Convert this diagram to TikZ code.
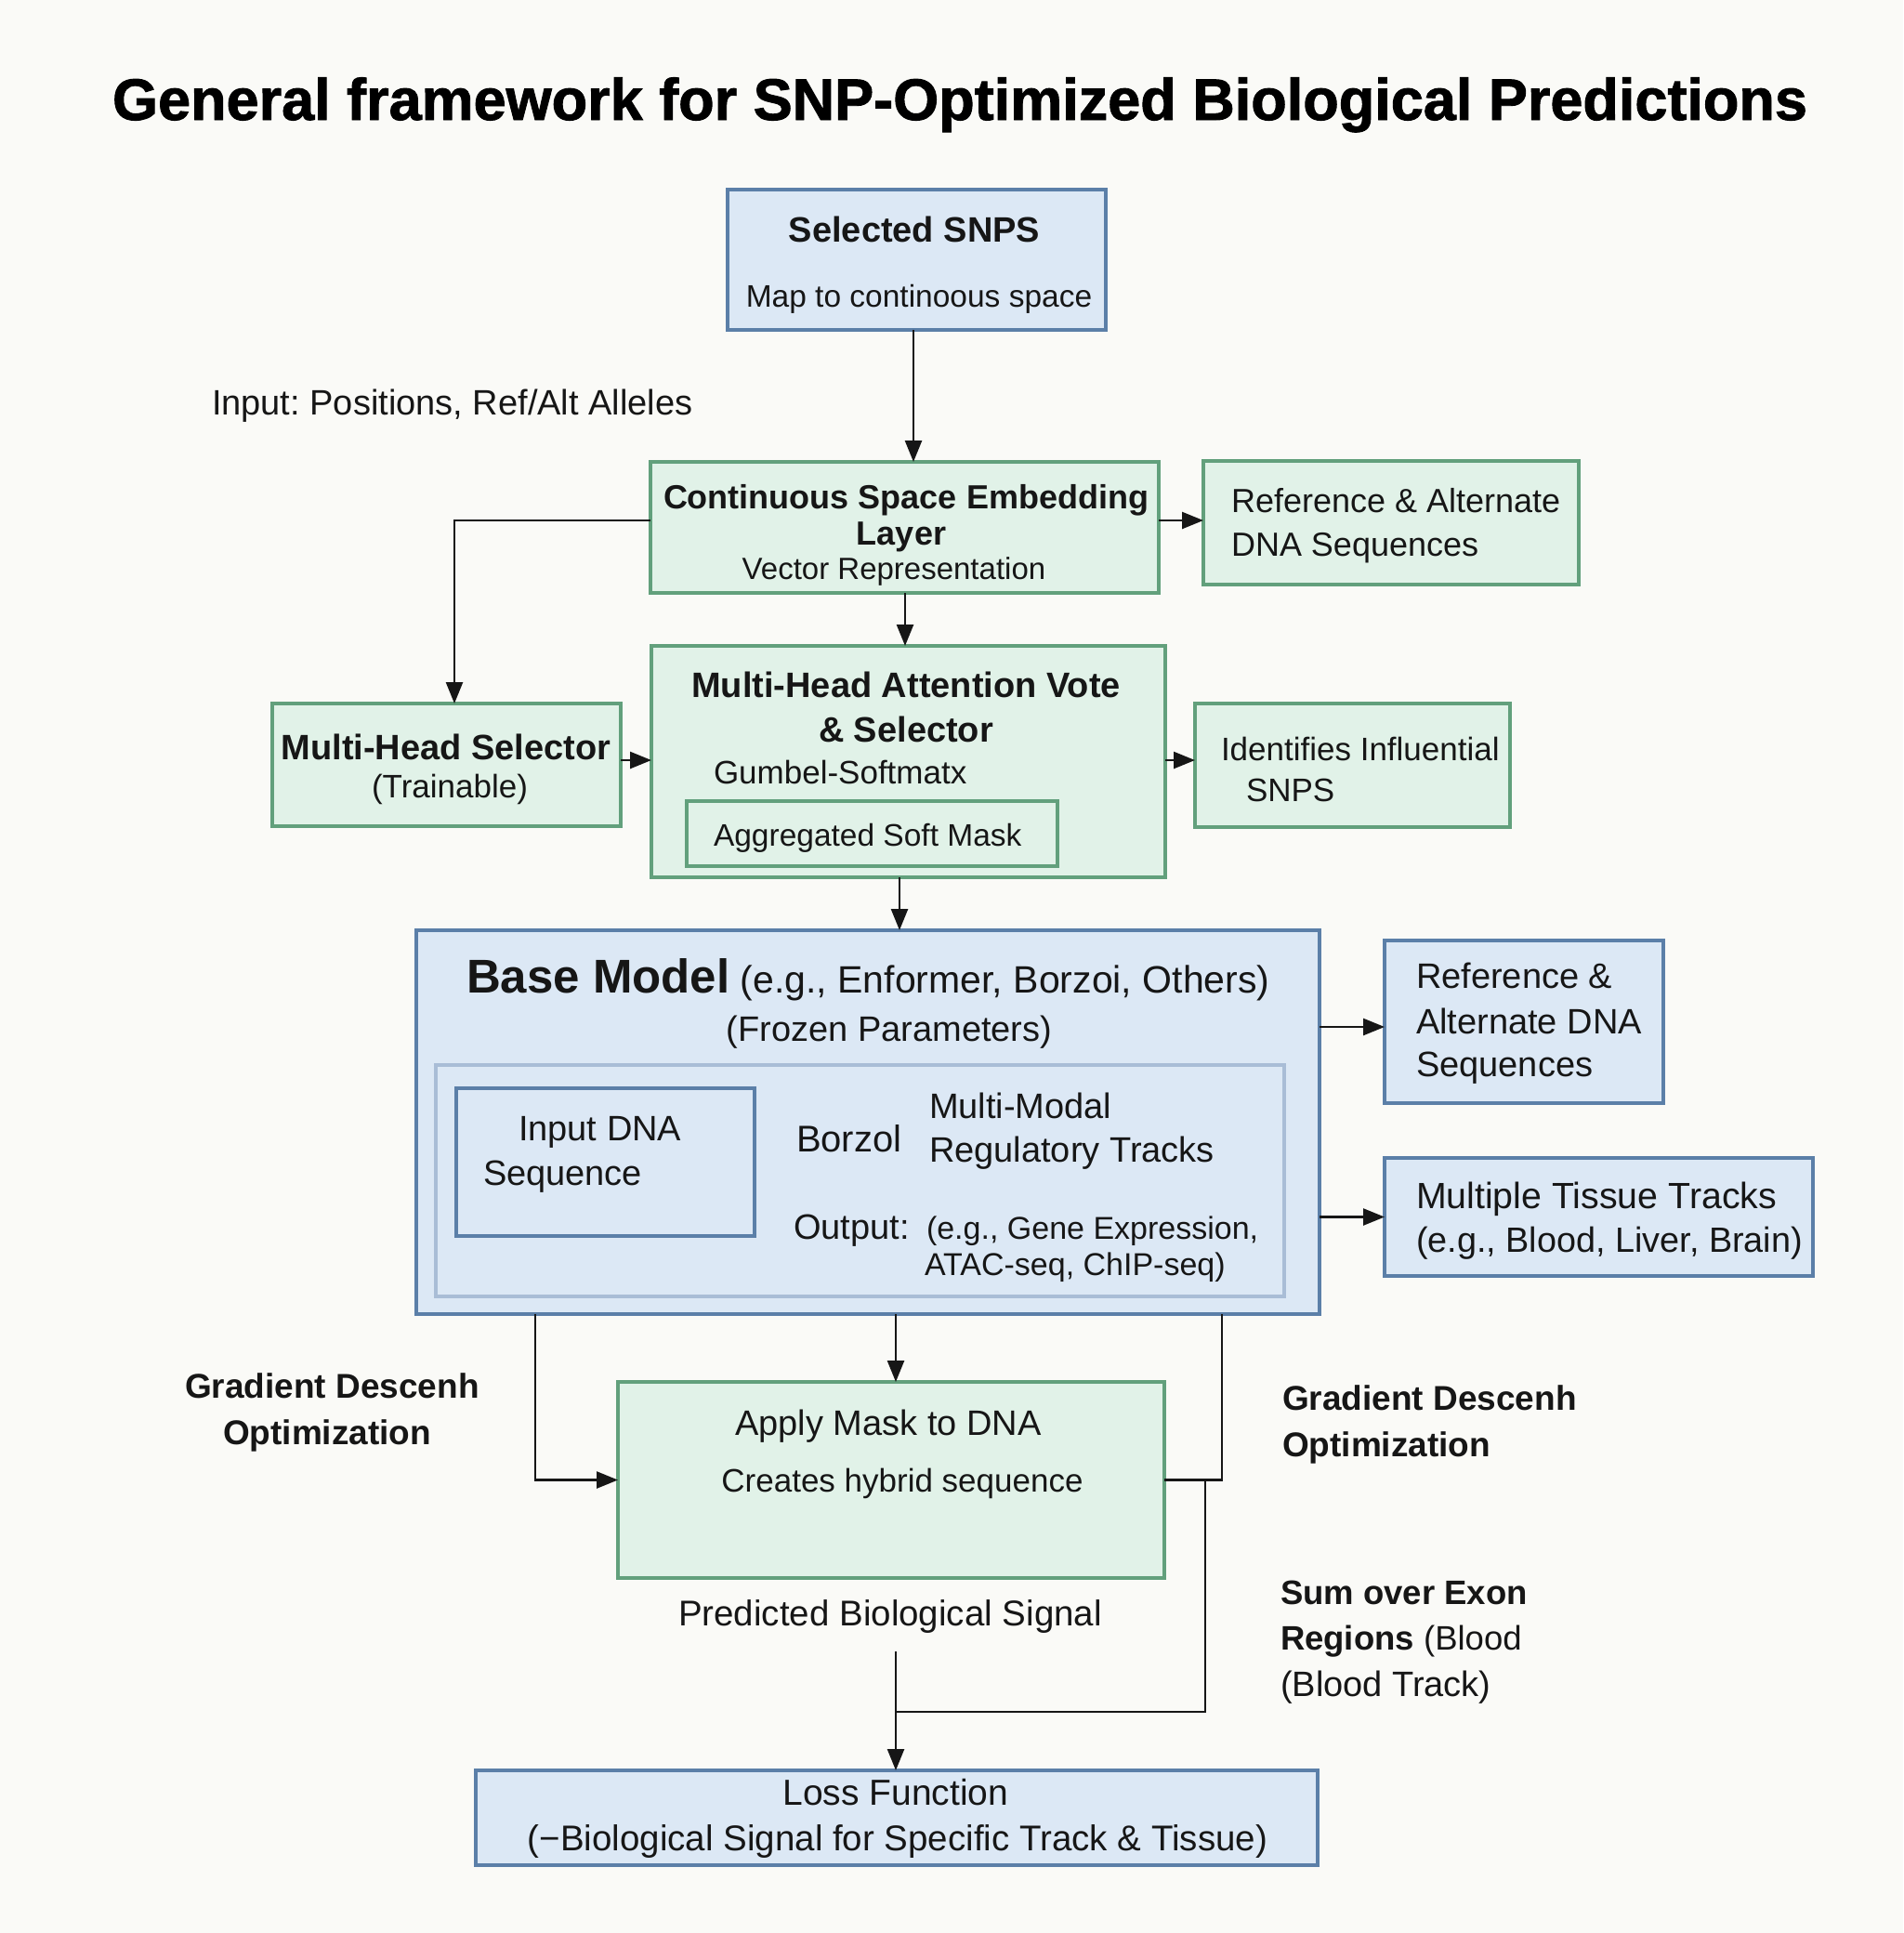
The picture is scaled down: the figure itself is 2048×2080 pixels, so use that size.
\documentclass[tikz,border=0pt]{standalone}
\usepackage{fontspec}
\setmainfont{Liberation Sans}
\newfontfamily\heavyfont{Liberation Sans}[BoldFeatures={FakeBold=1.5}]
\usetikzlibrary{arrows.meta}
\definecolor{bg}{HTML}{FAFAF7}
\definecolor{bfill}{HTML}{DCE8F5}
\definecolor{bline}{HTML}{5B7FA8}
\definecolor{gfill}{HTML}{E1F2E8}
\definecolor{gline}{HTML}{62A07C}
\definecolor{iline}{HTML}{A9BDD6}
\definecolor{ink}{HTML}{161616}
\newcommand\fs[1]{\fontsize{#1}{#1}\selectfont}
\newcommand\mkbox[6]{\node[#2, minimum width={#5-#3}, minimum height={#6-#4}] (#1) at ({(#3+#5)/2},{(#4+#6)/2}) {};}
\frenchspacing
\begin{document}
\begin{tikzpicture}[x=1pt,y=-1pt,
  box/.style={rectangle, inner sep=0pt, outer sep=0pt, line width=4pt},
  bbox/.style={box, draw=bline, fill=bfill},
  gbox/.style={box, draw=gline, fill=gfill},
  ibox/.style={box, draw=iline, fill=bfill, line width=3.5pt},
  txt/.style={inner sep=0pt, outer sep=0pt, text=ink, anchor=base},
  lt/.style={txt, anchor=base west},
  arr/.style={draw=ink, line width=2.5pt, -{Triangle[length=23pt,width=18pt]}},
  ln/.style={draw=ink, line width=2.5pt},
]
\fill[bg] (0,0) rectangle (2048,2080);
\useasboundingbox (0,0) rectangle (2048,2080);

% boxes
\mkbox{snps}{bbox}{783}{204}{1190}{355}
\mkbox{emb}{gbox}{700}{497}{1247}{638}
\mkbox{refalt1}{gbox}{1295}{496}{1699}{629}
\mkbox{sel}{gbox}{293}{757}{668}{889}
\mkbox{att}{gbox}{701}{695}{1254}{944}
\mkbox{agg}{gbox}{739}{862}{1138}{932}
\mkbox{infl}{gbox}{1286}{757}{1625}{890}
\mkbox{base}{bbox}{448}{1001}{1420}{1414}
\mkbox{inner}{ibox}{469}{1146}{1382}{1395}
\mkbox{inp}{bbox}{491}{1171}{812}{1330}
\mkbox{refalt2}{bbox}{1490}{1012}{1790}{1187}
\mkbox{tissue}{bbox}{1490}{1246}{1951}{1373}
\mkbox{apply}{gbox}{665}{1487}{1253}{1698}
\mkbox{loss}{bbox}{512}{1905}{1418}{2007}

% texts
\node[txt, text=black, font=\heavyfont\bfseries\fs{63}] (title) at (1033,129) {General framework for SNP-Optimized Biological Predictions};

\node[txt, font=\bfseries\fs{38}] (t-snps1) at (984,260) {Selected SNPS};
\node[txt, font=\fs{33.5}] (t-snps2) at (989,330) {Map to continoous space};

\node[lt, font=\fs{38}] (t-input) at (228,446) {Input: Positions, Ref/Alt Alleles};

\node[txt, font=\bfseries\fs{36}] (t-emb1) at (975,547) {Continuous Space Embedding};
\node[txt, font=\bfseries\fs{36}] (t-emb2) at (970,586) {Layer};
\node[txt, font=\fs{33}] (t-emb3) at (962,623) {Vector Representation};

\node[lt, font=\fs{36}] (t-ra1) at (1325,551) {Reference \& Alternate};
\node[lt, font=\fs{36}] (t-ra2) at (1325,598) {DNA Sequences};

\node[txt, font=\bfseries\fs{38}] (t-sel1) at (480,817) {Multi-Head Selector};
\node[txt, font=\fs{35}] (t-sel2) at (484,858) {(Trainable)};

\node[txt, font=\bfseries\fs{38}] (t-att1) at (975,750) {Multi-Head Attention Vote};
\node[txt, font=\bfseries\fs{38}] (t-att2) at (975,798) {\& Selector};
\node[lt, font=\fs{35}] (t-att3) at (768,843) {Gumbel-Softmatx};
\node[lt, font=\fs{33.5}] (t-agg) at (768,910) {Aggregated Soft Mask};

\node[lt, font=\fs{35}] (t-inf1) at (1314,818) {Identifies Influential};
\node[lt, font=\fs{35}] (t-inf2) at (1341,862) {SNPS};

\node[lt, font=\fs{41}] (t-base1) at (502,1068) {{\bfseries\fs{51}Base Model} (e.g., Enformer, Borzoi, Others)};
\node[txt, font=\fs{38}] (t-base2) at (957,1120) {(Frozen Parameters)};

\node[lt, font=\fs{38}] (t-inp1) at (558,1227) {Input DNA};
\node[lt, font=\fs{38}] (t-inp2) at (520,1275) {Sequence};
\node[lt, font=\fs{40}] (t-borz) at (857,1239) {Borzol};
\node[lt, font=\fs{38}] (t-mm1) at (1000,1203) {Multi-Modal};
\node[lt, font=\fs{38}] (t-mm2) at (1000,1250) {Regulatory Tracks};
\node[lt, font=\fs{38}] (t-out) at (854,1333) {Output:};
\node[lt, font=\fs{34}] (t-out1) at (997,1333) {(e.g., Gene Expression,};
\node[lt, font=\fs{34}] (t-out2) at (995,1372) {ATAC-seq, ChIP-seq)};

\node[lt, font=\fs{38}] (t-rb1) at (1524,1063) {Reference \&};
\node[lt, font=\fs{38}] (t-rb2) at (1524,1112) {Alternate DNA};
\node[lt, font=\fs{38}] (t-rb3) at (1524,1158) {Sequences};

\node[lt, font=\fs{39.3}] (t-ti1) at (1524,1300) {Multiple Tissue Tracks};
\node[lt, font=\fs{37.8}] (t-ti2) at (1524,1347) {(e.g., Blood, Liver, Brain)};

\node[lt, font=\bfseries\fs{37}] (t-gdl1) at (199,1504) {Gradient Descenh};
\node[lt, font=\bfseries\fs{37}] (t-gdl2) at (240,1554) {Optimization};
\node[lt, font=\bfseries\fs{37}] (t-gdr1) at (1380,1517) {Gradient Descenh};
\node[lt, font=\bfseries\fs{37}] (t-gdr2) at (1380,1567) {Optimization};

\node[txt, font=\fs{38}] (t-ap1) at (956,1544) {Apply Mask to DNA};
\node[txt, font=\fs{35}] (t-ap2) at (971,1605) {Creates hybrid sequence};

\node[txt, font=\fs{38.5}] (t-pred) at (958,1749) {Predicted Biological Signal};

\node[lt, font=\fs{36.5}] (t-sum1) at (1378,1726) {\bfseries Sum over Exon};
\node[lt, font=\fs{36.5}] (t-sum2) at (1378,1775) {\textbf{Regions} (Blood};
\node[lt, font=\fs{38}] (t-sum3) at (1378,1825) {(Blood Track)};

\node[txt, font=\fs{39}] (t-loss1) at (964,1942) {Loss Function};
\node[txt, font=\fs{38.5}] (t-loss2) at (966,1991) {(−Biological Signal for Specific Track \& Tissue)};

% helper coordinates
\coordinate (ax) at (983,0);
\coordinate (ek) at (489,560);
\coordinate (ex) at (974,0);
\coordinate (ey) at (0,818);
\coordinate (ex2) at (968,0);
\coordinate (ry) at (0,1105);
\coordinate (gl) at (576,0);
\coordinate (gc) at (964,0);
\coordinate (gr) at (1315,0);
\coordinate (gr2) at (1297,0);
\coordinate (jn) at (964,1842);
\coordinate (pt) at (964,1777);

% connectors
\draw[arr] (snps.south -| ax) -- (emb.north -| ax);
\draw[arr] (emb.east |- ek) -- (refalt1.west |- ek);
\draw[arr] (emb.west |- ek) -| (sel.north -| ek);
\draw[arr] (emb.south -| ex) -- (att.north -| ex);
\draw[arr] (sel.east |- ey) -- (att.west |- ey);
\draw[arr] (att.east |- ey) -- (infl.west |- ey);
\draw[arr] (att.south -| ex2) -- (base.north -| ex2);
\draw[arr] (base.east |- ry) -- (refalt2.west |- ry);
\draw[arr] (base.east |- tissue.west) -- (tissue.west);
\draw[arr] (base.south -| gl) |- (apply.west);
\draw[arr] (base.south -| gc) -- (apply.north -| gc);
\draw[ln] (base.south -| gr) |- (apply.east);
\draw[ln] (apply.east -| gr2) |- (jn);
\draw[arr] (pt) -- (loss.north -| pt);
\end{tikzpicture}
\end{document}
